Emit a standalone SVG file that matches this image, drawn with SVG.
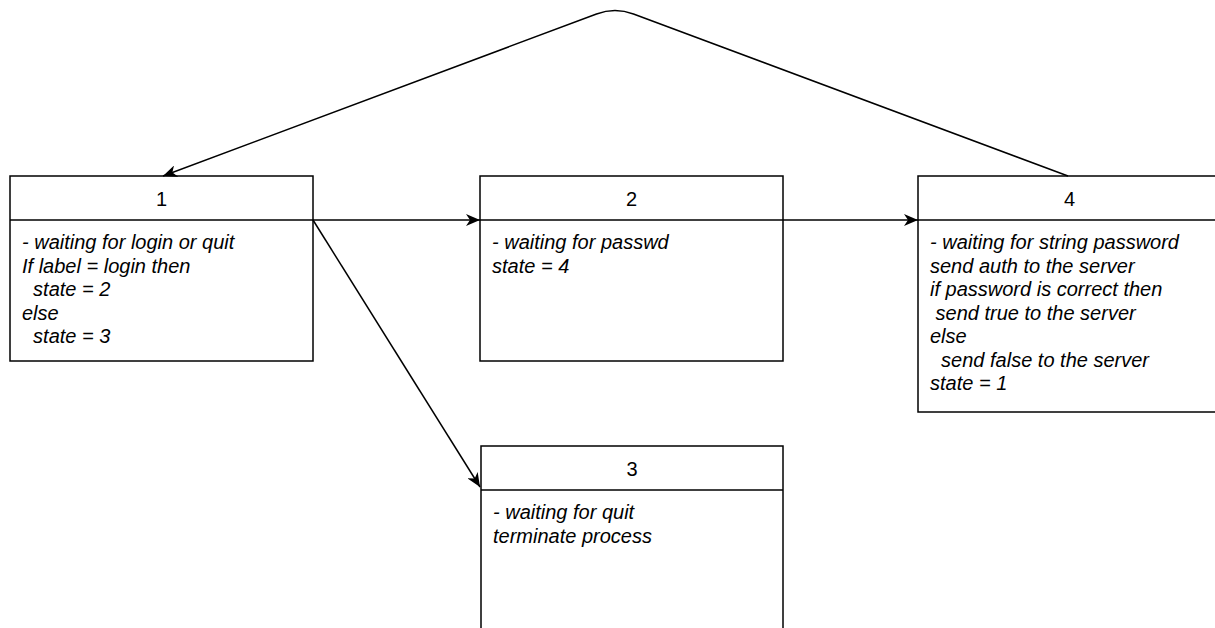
<svg xmlns="http://www.w3.org/2000/svg" width="1215" height="628" viewBox="0 0 1215 628">
  <style>
    .box { fill: #ffffff; stroke: #000000; stroke-width: 1.5; }
    .sep { stroke: #000000; stroke-width: 1.5; }
    .title { font-family: "Liberation Sans", Arial, Helvetica, sans-serif; font-size: 20px; fill: #000000; text-anchor: middle; }
    .body { font-family: "Liberation Sans", Arial, Helvetica, sans-serif; font-size: 20px; font-style: italic; fill: #000000; white-space: pre; }
    .edge { fill: none; stroke: #000000; stroke-width: 1.5; }
  </style>
  <defs>
    <marker id="arrow" markerUnits="userSpaceOnUse" viewBox="0 0 14 12" markerWidth="14" markerHeight="12" refX="14" refY="6" orient="auto">
      <path d="M0,0 L14,6 L0,12 L4,6 Z" fill="#000000"/>
    </marker>
  </defs>

  <rect width="1215" height="628" fill="#ffffff"/>

  <!-- state 1 -->
  <g id="state1">
    <rect class="box" x="10" y="176" width="303" height="185"/>
    <line class="sep" x1="10" y1="220" x2="313" y2="220"/>
    <text class="title" x="161.5" y="206">1</text>
    <text class="body" x="22" y="249">- waiting for login or quit</text>
    <text class="body" x="22" y="272.5">If label = login then</text>
    <text class="body" x="22" y="296">  state = 2</text>
    <text class="body" x="22" y="319.5">else</text>
    <text class="body" x="22" y="343">  state = 3</text>
  </g>

  <!-- state 2 -->
  <g id="state2">
    <rect class="box" x="480" y="176" width="303" height="185"/>
    <line class="sep" x1="480" y1="220" x2="783" y2="220"/>
    <text class="title" x="631.5" y="206">2</text>
    <text class="body" x="492" y="249">- waiting for passwd</text>
    <text class="body" x="492" y="272.5">state = 4</text>
  </g>

  <!-- state 3 -->
  <g id="state3">
    <rect class="box" x="481" y="446" width="302" height="190"/>
    <line class="sep" x1="481" y1="490" x2="783" y2="490"/>
    <text class="title" x="632" y="476">3</text>
    <text class="body" x="493" y="519">- waiting for quit</text>
    <text class="body" x="493" y="542.5">terminate process</text>
  </g>

  <!-- state 4 -->
  <g id="state4">
    <rect class="box" x="918" y="176" width="303" height="236"/>
    <line class="sep" x1="918" y1="220" x2="1221" y2="220"/>
    <text class="title" x="1069.5" y="206">4</text>
    <text class="body" x="930" y="249">- waiting for string password</text>
    <text class="body" x="930" y="272.5">send auth to the server</text>
    <text class="body" x="930" y="296">if password is correct then</text>
    <text class="body" x="930" y="319.5"> send true to the server</text>
    <text class="body" x="930" y="343">else</text>
    <text class="body" x="930" y="366.5">  send false to the server</text>
    <text class="body" x="930" y="390">state = 1</text>
  </g>

  <!-- transitions -->
  <g id="connectors">
    <path class="edge" d="M313,220 L480,220" marker-end="url(#arrow)"/>
    <path class="edge" d="M313,220 L480,487" marker-end="url(#arrow)"/>
    <path class="edge" d="M783,220 L918,220" marker-end="url(#arrow)"/>
    <path class="edge" d="M1068,176 L633.5,14 Q615,7 596.5,14 L163,176" marker-end="url(#arrow)"/>
  </g>
</svg>
